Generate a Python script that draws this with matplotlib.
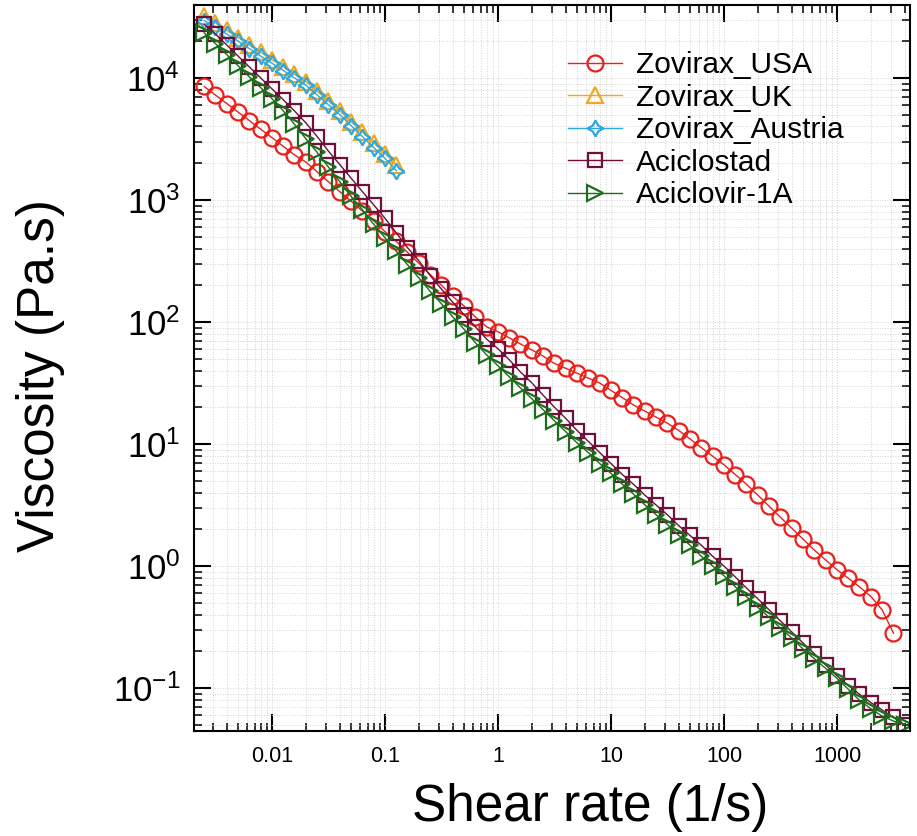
import matplotlib
matplotlib.use("Agg")
import matplotlib.pyplot as plt
from matplotlib.ticker import LogLocator, NullFormatter

plt.rcParams["font.family"] = ["Liberation Sans", "DejaVu Sans"]
plt.rcParams["mathtext.default"] = "regular"

# shear rates (1/s)
shear_rate = [
    0.00251, 0.00316, 0.00398, 0.00501, 0.00631, 0.00794,
    0.01, 0.0126, 0.0158, 0.02, 0.0251, 0.0316, 0.0398, 0.0501, 0.0631, 0.0794,
    0.1, 0.126, 0.158, 0.2, 0.251, 0.316, 0.398, 0.501, 0.631, 0.794,
    1.0, 1.26, 1.58, 2.0, 2.51, 3.16, 3.98, 5.01, 6.31, 7.94,
    10.0, 12.6, 15.8, 20.0, 25.1, 31.6, 39.8, 50.1, 63.1, 79.4,
    100.0, 126, 158, 200, 251, 316, 398, 501, 631, 794,
    1000.0, 1260, 1580, 2000, 2510, 3160, 3980,
]

# viscosity (Pa.s)
visc_usa = [
    8510, 7240, 6170, 5250, 4470, 3800,
    3240, 2750, 2340, 2040, 1700, 1410, 1170, 977, 813, 676,
    550, 457, 372, 302, 245, 200, 162, 135, 110, 91.2,
    83.2, 74.1, 66.1, 58.9, 52.5, 45.7, 41.7, 38.0, 34.7, 31.6,
    27.5, 24.0, 20.9, 18.6, 16.6, 14.8, 12.9, 11.0, 9.33, 7.94,
    6.76, 5.62, 4.68, 3.80, 3.09, 2.51, 2.04, 1.66, 1.35, 1.12,
    0.933, 0.794, 0.676, 0.562, 0.437, 0.282,
]
visc_uk = [
    32400, 28200, 24500, 21400, 18600, 16200,
    14100, 12300, 10700, 9330, 7760, 6460, 5370, 4370, 3630, 2950,
    2400, 1950,
]
visc_austria = [
    29500, 26300, 22900, 20000, 17400, 15100,
    13200, 11500, 10000, 8710, 7240, 6030, 5010, 4070, 3310, 2690,
    2190, 1740,
]
visc_aciclostad = [
    27500, 22900, 18600, 15100, 12300, 10000,
    8130, 6610, 5370, 4270, 3310, 2510, 1950, 1510, 1170, 912,
    708, 537, 407, 316, 240, 186, 145, 115, 91.2, 72.4,
    60.3, 49.0, 38.9, 31.6, 25.1, 20.0, 16.2, 12.9, 10.5, 8.51,
    6.92, 5.62, 4.68, 3.80, 3.16, 2.63, 2.14, 1.78, 1.48, 1.20,
    1.00, 0.813, 0.661, 0.537, 0.437, 0.355, 0.288, 0.234, 0.191, 0.155,
    0.126, 0.105, 0.0891, 0.0759, 0.0661, 0.0575, 0.0501,
]
visc_aciclovir = [
    23400, 19100, 15500, 12600, 10200, 8320,
    6760, 5370, 4170, 3160, 2450, 1860, 1410, 1070, 832, 631,
    490, 380, 295, 229, 178, 141, 110, 87.1, 67.6, 53.7,
    43.7, 35.5, 28.8, 23.4, 19.1, 15.5, 12.6, 10.2, 8.51, 6.92,
    5.75, 4.68, 3.89, 3.16, 2.63, 2.19, 1.78, 1.48, 1.20, 1.00,
    0.832, 0.676, 0.562, 0.457, 0.380, 0.309, 0.257, 0.209, 0.174, 0.145,
    0.120, 0.0977, 0.0794, 0.0676, 0.0589, 0.0537, 0.0501,
]

x_ticks = [0.01, 0.1, 1, 10, 100, 1000]
x_tick_labels = ["0.01", "0.1", "1", "10", "100", "1000"]
y_ticks = [0.1, 1, 10, 100, 1000, 10000]
y_tick_labels = [r"$\mathdefault{10^{%d}}$" % e for e in [-1, 0, 1, 2, 3, 4]]

fig = plt.figure(figsize=(9.17, 8.36), dpi=100)
ax = fig.add_axes([194 / 917, 1 - 731 / 836, 716 / 917, 726 / 836])

series = [
    ("Zovirax_USA", visc_usa, "o", "#E8201C", 11.5),
    ("Zovirax_UK", visc_uk, "^", "#F0A820", 11),
    ("Zovirax_Austria", visc_austria, (4, 1, 0), "#2EA8E0", 11.5),
    ("Aciclostad", visc_aciclostad, "s", "#6E1038", 10.5),
    ("Aciclovir-1A", visc_aciclovir, ">", "#1C6E1C", 11.5),
]
for name, visc, mk, col, ms in series:
    ax.plot(shear_rate[:len(visc)], visc, marker=mk, color=col, lw=1.0,
            ms=ms, mfc="none", mec=col, mew=1.6, label=name)

ax.set_xscale("log")
ax.set_yscale("log")
ax.set_xlim(0.00204, 4425)
ax.set_ylim(0.0445, 39600)

ax.set_xticks(x_ticks)
ax.set_xticklabels(x_tick_labels)
ax.set_yticks(y_ticks)
ax.set_yticklabels(y_tick_labels)
for axis in (ax.xaxis, ax.yaxis):
    axis.set_minor_locator(LogLocator(base=10, subs=range(2, 10), numticks=30))
    axis.set_minor_formatter(NullFormatter())

ax.tick_params(which="both", direction="in", top=True, right=True)
ax.tick_params(which="major", length=12, width=1.5)
ax.tick_params(which="minor", length=6, width=1.1)
ax.tick_params(axis="x", which="major", labelsize=15.5, pad=11)
ax.tick_params(axis="y", which="major", labelsize=25, pad=10)
for sp in ax.spines.values():
    sp.set_linewidth(1.5)

ax.grid(True, which="both", color="#d2d2d2", linestyle=":", linewidth=0.7)
ax.set_axisbelow(True)

ax.set_xlabel("Shear rate (1/s)", fontsize=37)
ax.xaxis.set_label_coords(0.553, -0.072)
ax.set_ylabel("Viscosity (Pa.s)", fontsize=37)
ax.yaxis.set_label_coords(-0.18, 0.49)

ax.legend(loc="upper left", bbox_to_anchor=(0.522, 0.936), frameon=False,
          fontsize=21.5, borderpad=0, borderaxespad=0, handlelength=1.8,
          handletextpad=0.5, labelspacing=0.15)

fig.savefig("out.png", dpi=100)
